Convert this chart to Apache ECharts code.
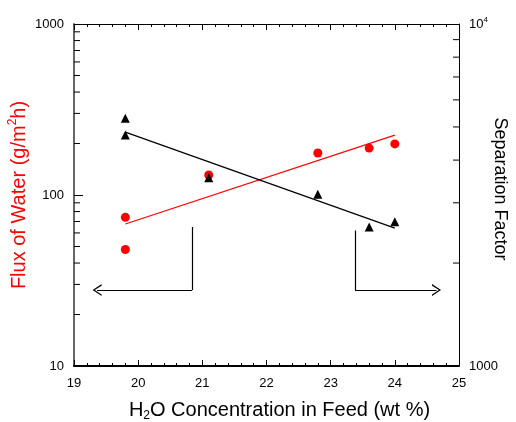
<!DOCTYPE html>
<html style="height: 100%;width:100%">
<head>
<meta charset="utf-8">
</head>
<body style="height: 100%; width:100%; margin:0">
<div id="chart-panel" style="height: 422px;width: 516px"></div>
<script type="text/javascript" src="https://cdn.jsdelivr.net/npm/echarts@6/dist/echarts.min.js"></script>
<script type="text/javascript">
// flux of water, g/m2h (left axis) vs H2O concentration in feed (wt %)
var fluxX = [19.8, 19.8, 21.1, 22.8, 23.6, 24.0];
var fluxVals = [74, 48, 131, 176, 188, 199];
// separation factor (right axis)
var sepX = [19.8, 19.8, 21.1, 22.8, 23.6, 24.0];
var sepVals = [5300, 4740, 3550, 3180, 2550, 2640];
// fitted lines (end points)
var fitX = [19.8, 24.0];
var fitFlux = [67.7, 224];
var fitSep = [4830, 2530];
// arrow annotations, in data units of x / left axis
var leftArrow = { x: 20.84, top: 65, y: 27.8, tip: 19.36 };
var rightArrow = { x: 23.38, top: 62, y: 27.8, tip: 24.65 };
// log minor tick values
var leftMinor = [20, 30, 40, 50, 60, 70, 80, 90, 200, 300, 400, 500, 600, 700, 800, 900];
var rightMinor = [2000, 3000, 4000, 5000, 6000, 7000, 8000, 9000];

var font = "'Liberation Sans', Arial, sans-serif";
var myChart = echarts.init(document.getElementById('chart-panel'));

function pairs(xs, ys) {
	return xs.map(function (x, i) { return [x, ys[i]]; });
}

var chevron = 'path://M50,0 L100,100 L87,100 L50,24 L13,100 L0,100 Z';

function tickSeries(vals, axisIdx, xPos, dir) {
	return {
		type: 'custom',
		yAxisIndex: axisIdx,
		silent: true,
		clip: false,
		z: 5,
		renderItem: function (params, api) {
			var p = api.coord([api.value(0), api.value(1)]);
			return {
				type: 'line',
				shape: { x1: p[0], y1: p[1], x2: p[0] + dir * 6, y2: p[1] },
				style: { stroke: '#000', lineWidth: 1 }
			};
		},
		data: vals.map(function (v) { return [xPos, v]; })
	};
}

var option = {
	backgroundColor: '#fff',
	animation: false,
	grid: { left: 74, right: 57, top: 24, bottom: 56, containLabel: false, outerBoundsMode: 'none' },
	xAxis: [{
		type: 'value',
		min: 19, max: 25, interval: 1,
		position: 'bottom',
		name: 'H{sub|2}O Concentration in Feed (wt %)',
		nameLocation: 'middle',
		nameGap: 32,
		nameMoveOverlap: false,
		nameTextStyle: {
			fontFamily: font, fontSize: 20, color: '#000',
			padding: [0, 0, 0, 26],
			rich: { sub: { fontFamily: font, fontSize: 12, padding: [12, 0, 0, 0], color: '#000' } }
		},
		axisLine: { lineStyle: { color: '#000', width: 2 } },
		axisTick: { inside: true, length: 6, lineStyle: { color: '#000' } },
		minorTick: { show: true, splitNumber: 5, length: 3, lineStyle: { color: '#000' } },
		axisLabel: { fontFamily: font, fontSize: 13, color: '#000', margin: 11 },
		splitLine: { show: false }
	}, {
		type: 'value',
		min: 19, max: 25, interval: 1,
		position: 'top',
		axisLine: { lineStyle: { color: '#000', width: 1 } },
		axisTick: { inside: true, length: 6, lineStyle: { color: '#000' } },
		minorTick: { show: true, splitNumber: 5, length: 3, lineStyle: { color: '#000' } },
		axisLabel: { show: false },
		splitLine: { show: false }
	}],
	yAxis: [{
		type: 'log',
		logBase: 10,
		min: 10, max: 1000,
		position: 'left',
		name: 'Flux of Water (g/m{sup|2}h)',
		nameLocation: 'middle',
		nameGap: 43,
		nameRotate: 90,
		nameMoveOverlap: false,
		nameTextStyle: {
			fontFamily: font, fontSize: 20, color: '#ff0000',
			rich: { sup: { fontFamily: font, fontSize: 12, padding: [0, 0, 12, 0], color: '#ff0000' } }
		},
		axisLine: { lineStyle: { color: '#666', width: 2 } },
		axisTick: { inside: true, length: 9, lineStyle: { color: '#000' } },
		axisLabel: {
			fontFamily: font, fontSize: 13, color: '#000', margin: 10,
			formatter: function (v) { return String(Math.round(v)); }
		},
		splitLine: { show: false }
	}, {
		type: 'log',
		logBase: 10,
		min: 1000, max: 10000,
		position: 'right',
		name: 'Separation Factor',
		nameLocation: 'middle',
		nameGap: 32,
		nameRotate: -90,
		nameMoveOverlap: false,
		nameTextStyle: { fontFamily: font, fontSize: 18, color: '#000', padding: [0, 12, 0, 0] },
		axisLine: { lineStyle: { color: '#000', width: 1 } },
		axisTick: { inside: true, length: 9, lineStyle: { color: '#000' } },
		axisLabel: {
			fontFamily: font, fontSize: 13, color: '#000', margin: 10,
			formatter: function (v) { return v >= 10000 ? '10{sup|4}' : String(Math.round(v)); },
			rich: { sup: { fontFamily: font, fontSize: 8, padding: [0, 0, 8, 0], color: '#000' } }
		},
		splitLine: { show: false }
	}],
	series: [
		{
			name: 'fluxFit',
			type: 'line',
			yAxisIndex: 0,
			symbol: 'none',
			lineStyle: { color: '#ff0000', width: 1.2 },
			data: pairs(fitX, fitFlux),
			markLine: {
				silent: true,
				symbol: ['none', 'none'],
				label: { show: false },
				lineStyle: { color: '#000', width: 1.2, type: 'solid' },
				emphasis: { disabled: true },
				data: [
					[{ coord: [leftArrow.x, leftArrow.top] }, { coord: [leftArrow.x, leftArrow.y] }],
					[{ coord: [leftArrow.x, leftArrow.y] }, { coord: [leftArrow.tip, leftArrow.y], symbol: chevron, symbolSize: [12, 9] }],
					[{ coord: [rightArrow.x, rightArrow.top] }, { coord: [rightArrow.x, rightArrow.y] }],
					[{ coord: [rightArrow.x, rightArrow.y] }, { coord: [rightArrow.tip, rightArrow.y], symbol: chevron, symbolSize: [12, 9] }]
				]
			}
		},
		{
			name: 'sepFit',
			type: 'line',
			yAxisIndex: 1,
			symbol: 'none',
			lineStyle: { color: '#000', width: 1.2 },
			data: pairs(fitX, fitSep)
		},
		{
			name: 'Flux',
			type: 'scatter',
			yAxisIndex: 0,
			symbol: 'circle',
			symbolSize: 9,
			itemStyle: { color: '#ff0000', opacity: 1 },
			z: 10,
			data: pairs(fluxX, fluxVals)
		},
		{
			name: 'Separation Factor',
			type: 'scatter',
			yAxisIndex: 1,
			symbol: 'triangle',
			symbolSize: 9,
			itemStyle: { color: '#000', opacity: 1 },
			z: 10,
			data: pairs(sepX, sepVals)
		},
		tickSeries(leftMinor, 0, 19, 1),
		tickSeries(rightMinor, 1, 25, -1)
	]
};
myChart.setOption(option);
</script>
</body>
</html>
